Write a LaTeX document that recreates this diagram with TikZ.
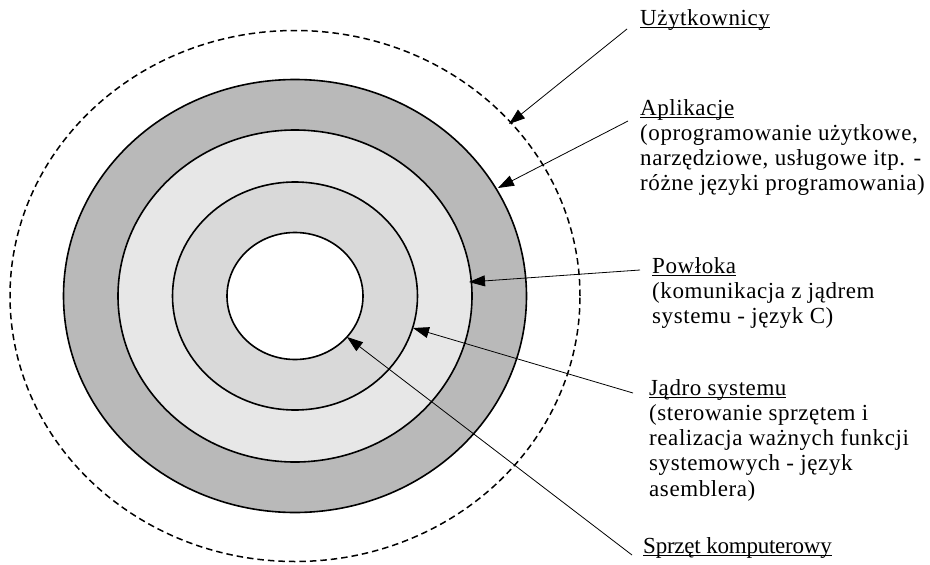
\documentclass[tikz,border=0pt]{standalone}
\usepackage{fontspec}
\setmainfont{Liberation Serif}[LetterSpace=2.5]
\usetikzlibrary{arrows.meta}

% underlined heading with the rule set just below the baseline
\newcommand\ulhead[1]{\setbox0\hbox{#1}\rlap{\rule[-2.6pt]{\wd0}{0.9pt}}\box0}

\definecolor{ringdark}{gray}{0.725}
\definecolor{ringlight}{gray}{0.905}
\definecolor{ringmid}{gray}{0.85}

\tikzset{
  ring/.style={draw=black, line width=1.6pt},
  pointer/.style={line width=0.8pt, -{Triangle[length=16pt,width=11pt]}},
  lbl/.style={inner sep=0pt, anchor=base west, font=\fontsize{23}{25.3}\selectfont},
}

\begin{document}
\begin{tikzpicture}[x=1pt,y=-1pt]
\useasboundingbox (0,0) rectangle (930,565);
\fill[white] (0,0) rectangle (930,565);

% layered rings of the system
\coordinate (ctr) at (295,296);
\draw[ring, fill=ringdark]  (ctr) ellipse [x radius=231.5pt, y radius=216.5pt];
\draw[ring, fill=ringlight] (ctr) ellipse [x radius=177pt,   y radius=166pt];
\draw[ring, fill=ringmid]   (ctr) ellipse [x radius=122.5pt, y radius=114pt];
\draw[ring, fill=white]     (ctr) ellipse [x radius=68pt,    y radius=63.5pt];
\draw[line width=1.5pt, dash pattern=on 6.5pt off 4pt]
  (ctr) ellipse [x radius=285pt, y radius=265.5pt];

% labels
\node[lbl] (uzyt) at (640,25) {\ulhead{Użytkownicy}};
\node[lbl] (apl) at (640,115) {\begin{tabular}[t]{@{}l@{}}\ulhead{Aplikacje}\\
  (oprogramowanie użytkowe,\\
  narzędziowe, usługowe itp. -\\
  różne języki programowania)\end{tabular}};
\node[lbl] (pow) at (652,273) {\begin{tabular}[t]{@{}l@{}}\ulhead{Powłoka}\\
  (komunikacja z jądrem\\
  systemu - język C)\end{tabular}};
\node[lbl] (jadro) at (649,395) {\begin{tabular}[t]{@{}l@{}}\ulhead{Jądro systemu}\\
  (sterowanie sprzętem i\\
  realizacja ważnych funkcji\\
  systemowych - język\\
  asemblera)\end{tabular}};
\node[lbl] (hw) at (643,553) {\addfontfeatures{LetterSpace=-1}\ulhead{Sprzęt komputerowy}};

% pointer ends
\coordinate (uzytS) at (627,29);
\coordinate (uzytT) at (509,124);
\coordinate (aplS) at (628,121);
\coordinate (aplT) at (498,188);
\coordinate (powS) at (640,270);
\coordinate (powT) at (469,282);
\coordinate (jadroS) at (633,393);
\coordinate (jadroT) at (413,328);
\coordinate (hwS) at (632,555);
\coordinate (hwT) at (347,337);

\draw[pointer] (uzytS) -- (uzytT);
\draw[pointer] (aplS) -- (aplT);
\draw[pointer] (powS) -- (powT);
\draw[pointer] (jadroS) -- (jadroT);
\draw[pointer] (hwS) -- (hwT);
\end{tikzpicture}
\end{document}
